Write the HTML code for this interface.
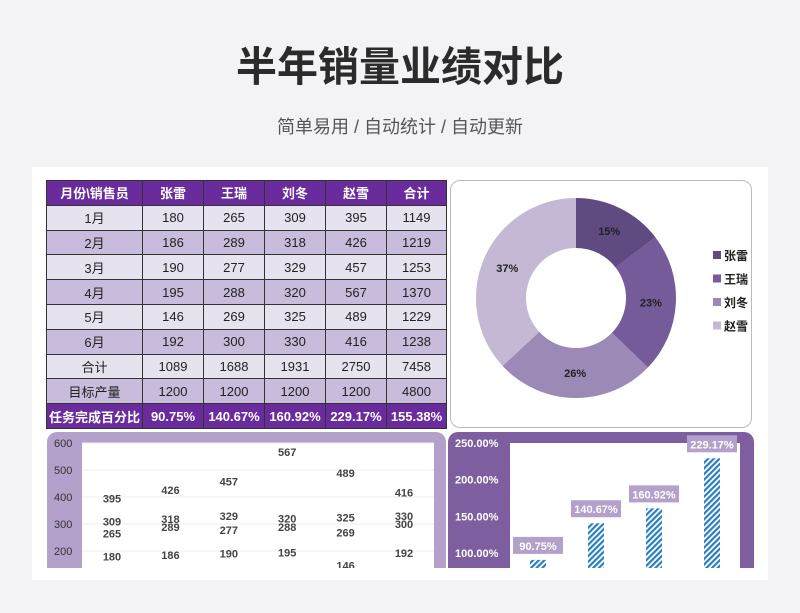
<!DOCTYPE html>
<html><head><meta charset="utf-8">
<style>
*{margin:0;padding:0;box-sizing:border-box}
body{width:800px;height:613px;background:#f3f3f5;font-family:"Liberation Sans","Noto Sans CJK SC",sans-serif;position:relative;overflow:hidden}
#title{position:absolute;top:33px;left:0;width:800px;text-align:center;font-size:41px;font-weight:bold;color:#2b2b2b;letter-spacing:0px}
#sub{position:absolute;top:113px;left:0;width:800px;text-align:center;font-size:18px;color:#555}
#card{position:absolute;left:32px;top:167px;width:736px;height:413px;background:#fff}
table{position:absolute;left:46px;top:180px;border-collapse:collapse;font-size:13px;color:#222}
td{border:1px solid #333;text-align:center;height:24.8px;padding:0}
tr.h td{background:#6a2b9d;color:#fff;font-weight:bold}
tr.a td{background:#e6e2ee}
tr.b td{background:#c8bbdb}
tr.f td{background:#6a2b9d;color:#fff;font-weight:bold}
#pie{position:absolute;left:450px;top:180px;width:302px;height:248px;border:1px solid #bbb;border-radius:10px;background:#fff}
svg{position:absolute}
</style></head><body>
<div id="title">半年销量业绩对比</div>
<div id="sub">简单易用 / 自动统计 / 自动更新</div>
<div id="card"></div>
<table>
<colgroup><col style="width:96px"><col style="width:61px"><col style="width:61px"><col style="width:61px"><col style="width:61px"><col style="width:60px"></colgroup>
<tr class="h"><td>月份\销售员</td><td>张雷</td><td>王瑞</td><td>刘冬</td><td>赵雪</td><td>合计</td></tr>
<tr class="a"><td>1月</td><td>180</td><td>265</td><td>309</td><td>395</td><td>1149</td></tr>
<tr class="b"><td>2月</td><td>186</td><td>289</td><td>318</td><td>426</td><td>1219</td></tr>
<tr class="a"><td>3月</td><td>190</td><td>277</td><td>329</td><td>457</td><td>1253</td></tr>
<tr class="b"><td>4月</td><td>195</td><td>288</td><td>320</td><td>567</td><td>1370</td></tr>
<tr class="a"><td>5月</td><td>146</td><td>269</td><td>325</td><td>489</td><td>1229</td></tr>
<tr class="b"><td>6月</td><td>192</td><td>300</td><td>330</td><td>416</td><td>1238</td></tr>
<tr class="a"><td>合计</td><td>1089</td><td>1688</td><td>1931</td><td>2750</td><td>7458</td></tr>
<tr class="b"><td>目标产量</td><td>1200</td><td>1200</td><td>1200</td><td>1200</td><td>4800</td></tr>
<tr class="f"><td>任务完成百分比</td><td>90.75%</td><td>140.67%</td><td>160.92%</td><td>229.17%</td><td>155.38%</td></tr>
</table>
<div id="pie"></div>
<svg id="donut" width="800" height="613" style="left:0;top:0"></svg>
<svg id="line" width="800" height="613" style="left:0;top:0"></svg>
<svg id="bars" width="800" height="613" style="left:0;top:0"></svg>
<script>
const NS="http://www.w3.org/2000/svg";
function mk(p,t,a){const e=document.createElementNS(NS,t);for(const k in a)e.setAttribute(k,a[k]);p.appendChild(e);return e;}
// donut data
const pieNames=["张雷","王瑞","刘冬","赵雪"];
const pieValues=[1089,1688,1931,2750];
const pieColors=["#5f4a82","#765b9a","#9b89b6","#c4b8d5"];
const d=document.getElementById('donut');
const cx=576,cy=298,R=100,r=50;
const tot=pieValues.reduce((a,b)=>a+b,0);
let ang=0;
pieValues.forEach((v,i)=>{
 const a0=ang,a1=ang+v/tot*2*Math.PI;ang=a1;
 const P=(rr,a)=>[cx+rr*Math.sin(a),cy-rr*Math.cos(a)];
 const [x0,y0]=P(R,a0),[x1,y1]=P(R,a1),[x2,y2]=P(r,a1),[x3,y3]=P(r,a0);
 const lg=(a1-a0)>Math.PI?1:0;
 const s=mk(d,'path',{d:`M${x0},${y0}A${R},${R} 0 ${lg} 1 ${x1},${y1}L${x2},${y2}A${r},${r} 0 ${lg} 0 ${x3},${y3}Z`,fill:pieColors[i]});
 
 
 const am=(a0+a1)/2;const [lx,ly]=P(75,am);
 const t=mk(d,'text',{x:lx,y:ly+4,'text-anchor':'middle','font-size':11,'font-weight':'bold',fill:'#222'});
 t.textContent=Math.round(v/tot*100)+'%';
 
 
 const ly2=256+i*23.5;
 const sq=mk(d,'rect',{x:713,y:ly2-5,width:8,height:8,fill:pieColors[i]});
 
 
 const lt=mk(d,'text',{x:724,y:ly2+4,'font-size':12,'font-weight':'bold',fill:'#222'});
 lt.textContent=pieNames[i];
 
 
});
// monthly chart data
const months=["1月","2月","3月","4月","5月","6月"];
const sZhang=[180,186,190,195,146,192];
const sWang=[265,289,277,288,269,300];
const sLiu=[309,318,329,320,325,330];
const sZhao=[395,426,457,567,489,416];
const yTicks=[600,500,400,300,200];
const L=document.getElementById('line');
mk(L,'path',{d:'M47,568V442a10,10 0 0 1 10,-10H436a10,10 0 0 1 10,10V568Z',fill:'#b3a1cb'});
mk(L,'rect',{x:82,y:443,width:352,height:125,fill:'#fff'});
const yS=v=>443+(600-v)*0.27;
const xS=i=>112+i*58.4;
yTicks.forEach(t=>{
 const g=mk(L,'line',{x1:82,x2:434,y1:yS(t),y2:yS(t),stroke:'#eee','stroke-width':1});
 
 
 const tx=mk(L,'text',{x:54,y:yS(t)+4,'font-size':11,fill:'#333'});
 tx.textContent=t;
 
 
});
const cl=mk(L,'clipPath',{id:'lc'});mk(cl,'rect',{x:82,y:440,width:352,height:128});
const lg=mk(L,'g',{'clip-path':'url(#lc)'});
[sZhang,sWang,sLiu,sZhao].forEach((ser,si)=>{
 ser.forEach((v,i)=>{
  const t=mk(lg,'text',{x:xS(i),y:yS(v)+4,'text-anchor':'middle','font-size':11,'font-weight':'bold',fill:'#444'});
  t.textContent=v;
  
  
 });
});
// completion chart data
const pctNames=["张雷","王瑞","刘冬","赵雪"];
const pctValues=[90.75,140.67,160.92,229.17];
const pctTicks=[250,200,150,100];
const B=document.getElementById('bars');
const defs=mk(B,'defs',{});
const pat=mk(defs,'pattern',{id:'hatch',width:4,height:4,patternUnits:'userSpaceOnUse',patternTransform:'rotate(45)'});
mk(pat,'rect',{width:4,height:4,fill:'#fff'});
mk(pat,'rect',{width:2.2,height:4,fill:'#2a7fc0'});
mk(B,'path',{d:'M448,568V442a10,10 0 0 1 10,-10H744a10,10 0 0 1 10,10V568Z',fill:'#7d5fa0'});
mk(B,'rect',{x:510,y:443,width:230,height:125,fill:'#fff'});
const pY=v=>443+(250-v)*0.734;
const pX=i=>538+i*58;
pctTicks.forEach(t=>{
 const tx=mk(B,'text',{x:455,y:pY(t)+4,'font-size':11,'font-weight':'bold',fill:'#fff'});
 tx.textContent=t.toFixed(2)+'%';
 
 
});
const bc=mk(B,'clipPath',{id:'bc'});mk(bc,'rect',{x:510,y:440,width:230,height:128});
const bg=mk(B,'g',{'clip-path':'url(#bc)'});
pctValues.forEach((v,i)=>{
 const b=mk(bg,'rect',{x:pX(i)-8,y:pY(v),width:16,height:568-pY(v),fill:'url(#hatch)'});
 
 
 const lb=mk(B,'rect',{x:pX(i)-25,y:pY(v)-23,width:50,height:17,fill:'#b3a1cb'});
 
 
 const t=mk(B,'text',{x:pX(i),y:pY(v)-10,'text-anchor':'middle','font-size':11,'font-weight':'bold',fill:'#fff'});
 t.textContent=v.toFixed(2)+'%';
 
 
});
</script>
</body></html>
